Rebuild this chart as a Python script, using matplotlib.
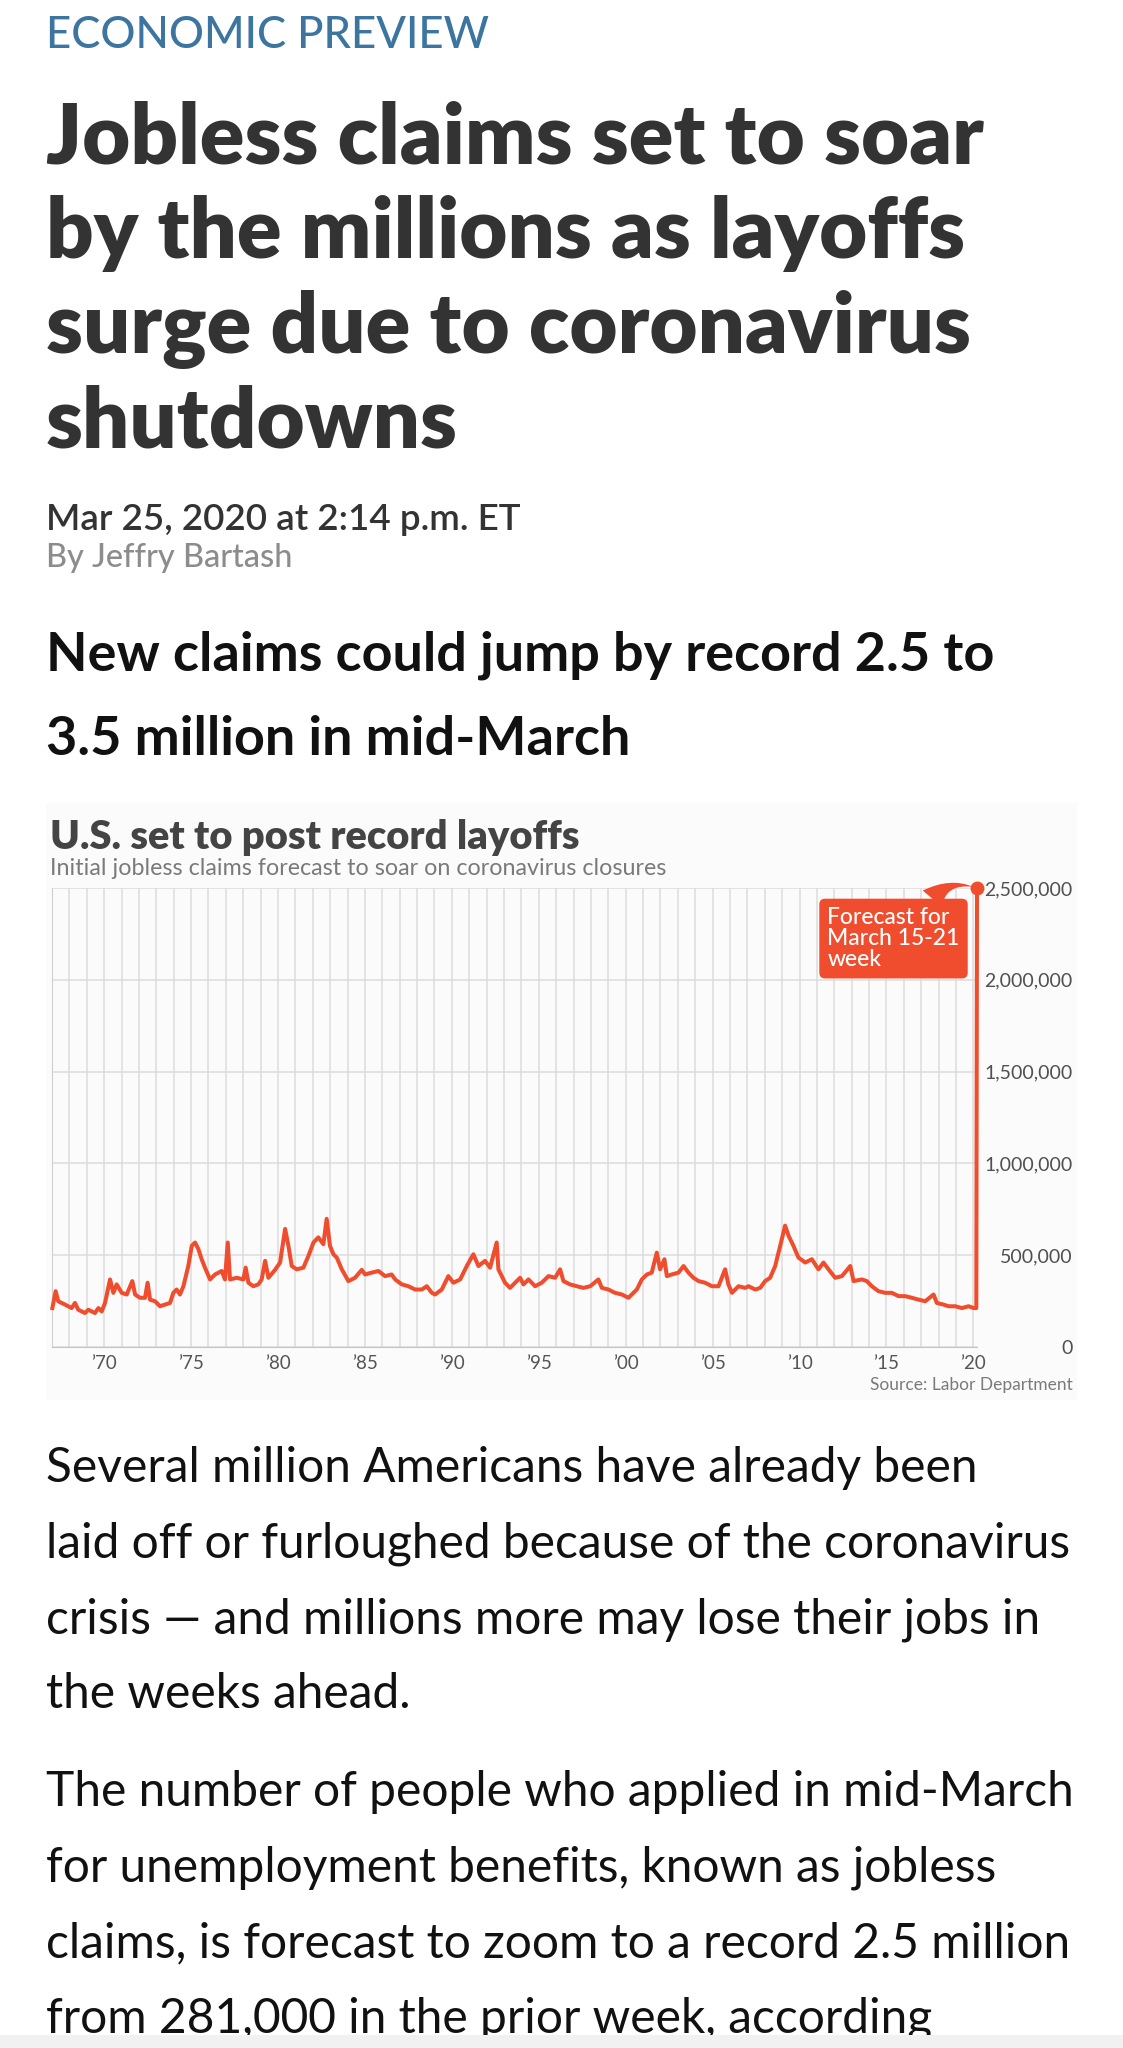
import matplotlib.pyplot as plt
import numpy as np
from matplotlib.patches import Rectangle

plt.rcParams['font.family'] = ['Lato', 'DejaVu Sans']

# weekly initial jobless claims (year, claims)
years = [1967.02, 1967.21, 1967.36, 1967.75, 1968.13, 1968.32, 1968.51, 1968.90,
         1969.09, 1969.47, 1969.67, 1969.86, 1970.05, 1970.34, 1970.53, 1970.72,
         1971.01, 1971.30, 1971.62, 1971.78, 1972.06, 1972.35, 1972.50, 1972.64,
         1972.93, 1973.21, 1973.50, 1973.79, 1973.98, 1974.17, 1974.36, 1974.56,
         1974.84, 1975.04, 1975.23, 1975.42, 1975.61, 1975.80, 1976.09, 1976.38,
         1976.76, 1976.95, 1977.11, 1977.24, 1977.63, 1978.01, 1978.14, 1978.30,
         1978.58, 1978.87, 1979.06, 1979.26, 1979.45, 1979.83, 1980.12, 1980.41,
         1980.60, 1980.79, 1981.08, 1981.46, 1981.75, 1982.04, 1982.32, 1982.61,
         1982.80, 1982.99, 1983.19, 1983.38, 1983.67, 1984.05, 1984.43, 1984.82,
         1985.01, 1985.39, 1985.78, 1986.16, 1986.54, 1986.74, 1987.12, 1987.50,
         1987.89, 1988.27, 1988.56, 1988.85, 1989.04, 1989.42, 1989.80, 1990.09,
         1990.48, 1990.86, 1991.24, 1991.53, 1991.91, 1992.20, 1992.58, 1992.68,
         1993.06, 1993.35, 1993.64, 1993.93, 1994.12, 1994.41, 1994.79, 1995.17,
         1995.56, 1995.94, 1996.23, 1996.42, 1996.80, 1997.19, 1997.57, 1997.96,
         1998.43, 1998.63, 1999.01, 1999.39, 1999.78, 2000.16, 2000.35, 2000.64,
         2000.93, 2001.22, 2001.50, 2001.79, 2001.98, 2002.23, 2002.37, 2002.65,
         2003.04, 2003.33, 2003.61, 2003.90, 2004.19, 2004.57, 2004.96, 2005.34,
         2005.72, 2005.91, 2006.11, 2006.49, 2006.87, 2007.07, 2007.45, 2007.74,
         2008.02, 2008.31, 2008.60, 2008.89, 2009.17, 2009.37, 2009.65, 2009.94,
         2010.33, 2010.71, 2011.09, 2011.38, 2011.67, 2012.05, 2012.44, 2012.92,
         2013.11, 2013.59, 2013.87, 2014.16, 2014.54, 2014.93, 2015.31, 2015.70,
         2016.08, 2016.46, 2016.85, 2017.23, 2017.71, 2017.90, 2018.28, 2018.57,
         2018.96, 2019.34, 2019.73, 2020.02, 2020.17]
claims = [212000, 304000, 249000, 231000, 212000, 240000, 203000, 185000,
          203000, 185000, 212000, 194000, 240000, 368000, 295000, 341000,
          295000, 286000, 359000, 286000, 268000, 268000, 350000, 258000,
          249000, 222000, 231000, 240000, 295000, 313000, 286000, 331000,
          441000, 551000, 569000, 533000, 478000, 432000, 368000, 395000,
          414000, 368000, 569000, 368000, 377000, 368000, 432000, 350000,
          331000, 341000, 368000, 469000, 377000, 420000, 460000, 643000,
          551000, 441000, 423000, 432000, 496000, 569000, 597000, 560000,
          698000, 551000, 505000, 487000, 423000, 359000, 377000, 420000,
          395000, 405000, 414000, 386000, 395000, 368000, 341000, 331000,
          313000, 313000, 331000, 295000, 286000, 313000, 386000, 350000,
          368000, 441000, 505000, 441000, 469000, 432000, 569000, 423000,
          350000, 322000, 350000, 377000, 341000, 368000, 331000, 350000,
          386000, 377000, 423000, 359000, 341000, 331000, 322000, 331000,
          368000, 322000, 313000, 295000, 286000, 268000, 286000, 313000,
          368000, 395000, 405000, 514000, 423000, 478000, 386000, 395000,
          405000, 441000, 405000, 377000, 359000, 350000, 331000, 331000,
          423000, 341000, 295000, 331000, 322000, 331000, 313000, 322000,
          359000, 377000, 441000, 551000, 661000, 606000, 551000, 487000,
          460000, 478000, 423000, 460000, 423000, 377000, 386000, 441000,
          359000, 368000, 359000, 331000, 304000, 295000, 295000, 277000,
          277000, 268000, 258000, 249000, 286000, 240000, 231000, 222000,
          222000, 212000, 222000, 212000, 212000]

forecast_year = 2020.21
forecast_claims = 2500000

ytick_vals = [0, 500000, 1000000, 1500000, 2000000, 2500000]
grid_years = list(range(1968, 2021))
label_years = [1970, 1975, 1980, 1985, 1990, 1995, 2000, 2005, 2010, 2015, 2020]

headline = ["Jobless claims set to soar", "by the millions as layoffs",
            "surge due to coronavirus", "shutdowns"]
subhead = ["New claims could jump by record 2.5 to", "3.5 million in mid-March"]
para1 = ["Several million Americans have already been",
         "laid off or furloughed because of the coronavirus",
         "crisis \u2014 and millions more may lose their jobs in",
         "the weeks ahead."]
para2 = ["The number of people who applied in mid-March",
         "for unemployment benefits, known as jobless",
         "claims, is forecast to zoom to a record 2.5 million",
         "from 281,000 in the prior week, according"]

red = '#ef4d2e'
W, H = 1123, 2048
fig = plt.figure(figsize=(W / 100, H / 100), dpi=100)
fig.patch.set_facecolor('white')
renderer = fig.canvas.get_renderer()


def put(x, y, s, size, **kw):
    return fig.text(x / W, 1 - y / H, s, fontsize=size, va='baseline', ha='left', **kw)


def fit(t, width):
    # scale font so the text spans the width measured on the reference
    w = t.get_window_extent(renderer).width
    t.set_fontsize(t.get_fontsize() * width / w)
    return t.get_fontsize()


t = put(46, 48, "ECONOMIC PREVIEW", 28, color='#3b75a0', fontweight='medium')
fit(t, 444)

t = put(46, 163, headline[0], 50, color='#333333', fontweight='heavy')
hs = fit(t, 936)
for i, line in enumerate(headline[1:]):
    put(46, 163 + 95 * (i + 1), line, hs, color='#333333', fontweight='heavy')

t = put(46, 530, "Mar 25, 2020 at 2:14 p.m. ET", 26, color='#333333', fontweight='semibold')
fit(t, 476)
t = put(46, 567, "By Jeffry Bartash", 20, color='#8c8c8c', fontweight='medium')
fit(t, 247)

t = put(46, 670, subhead[0], 40, color='#111111', fontweight='bold')
ss = fit(t, 949)
put(46, 755, subhead[1], ss, color='#111111', fontweight='bold')

# chart block background
fig.add_artist(Rectangle((46 / W, 1 - 1400 / H), (1077 - 46) / W, (1400 - 803) / H,
                         transform=fig.transFigure, fc='#fbfbfb', ec='none', zorder=0))
t = put(50, 849, "U.S. set to post record layoffs", 26, color='#444444', fontweight='heavy')
fit(t, 530)
t = put(50, 875, "Initial jobless claims forecast to soar on coronavirus closures", 14, color='#7a7a7a')
fit(t, 616)

ax = fig.add_axes([52 / W, 1 - 1347 / H, (977 - 52) / W, (1347 - 888) / H])
ax.set_facecolor('#fbfbfb')
ax.plot(years + [forecast_year], claims + [forecast_claims], color=red, lw=2.9,
        solid_joinstyle='round', clip_on=False, zorder=3)
ax.plot([forecast_year], [forecast_claims], 'o', color=red, ms=9, clip_on=False, zorder=4)
ax.set_xlim(1967.0, forecast_year)
ax.set_ylim(0, 2500000)

ax.set_xticks(grid_years)
ax.set_xticklabels(["\u2019%02d" % (y % 100) if y in label_years else "" for y in grid_years])
ax.set_yticks(ytick_vals)
ax.set_yticklabels([f"{v:,}" for v in ytick_vals])
ax.yaxis.tick_right()
ax.tick_params(axis='y', length=0, pad=69, labelsize=14, labelcolor='#505050')
ax.tick_params(axis='x', length=0, pad=6, labelsize=13.5, labelcolor='#555555')
for lab in ax.get_yticklabels():
    lab.set_ha('right')
for lab in ax.get_xticklabels():
    lab.set_x(lab.get_position()[0])
ax.grid(True, color='#dcdcdc', lw=1.1)
ax.set_axisbelow(True)
for s in ['top', 'right']:
    ax.spines[s].set_visible(False)
ax.spines['left'].set_color('#d0d0d0')
ax.spines['bottom'].set_color('#c4c4c4')

ax.annotate("Forecast for\nMarch 15-21\nweek", xy=(forecast_year, forecast_claims),
            xytext=(2011.6, 2398000), textcoords='data', ha='left', va='top',
            color='white', fontsize=16.5, linespacing=1.02, fontweight='medium',
            bbox=dict(boxstyle='round,pad=0.35,rounding_size=0.25', fc=red, ec='none'),
            arrowprops=dict(arrowstyle='wedge,tail_width=1.1,shrink_factor=0.3', fc=red, ec='none',
                            connectionstyle='arc3,rad=-0.4', relpos=(0.75, 1.0),
                            shrinkA=0, shrinkB=3),
            zorder=5)

t = put(1073, 1390, "Source: Labor Department", 12.5, color='#7a7a7a')
t.set_ha('right')

t = put(46, 1482, para1[1], 36, color='#111111')
bs = fit(t, 1025)
t.set_text("")
for i, line in enumerate(para1):
    put(46, 1482 + 75.5 * i, line, bs, color='#111111')
for i, line in enumerate(para2):
    put(46, 1806 + 75.5 * i, line, bs, color='#111111')

# browser bar at the very bottom clips the last line
fig.add_artist(Rectangle((0, 0), 1, 13 / H, transform=fig.transFigure,
                         fc='#f1f1f1', ec='none', zorder=10))

fig.savefig('out.png', dpi=100, facecolor='white')
